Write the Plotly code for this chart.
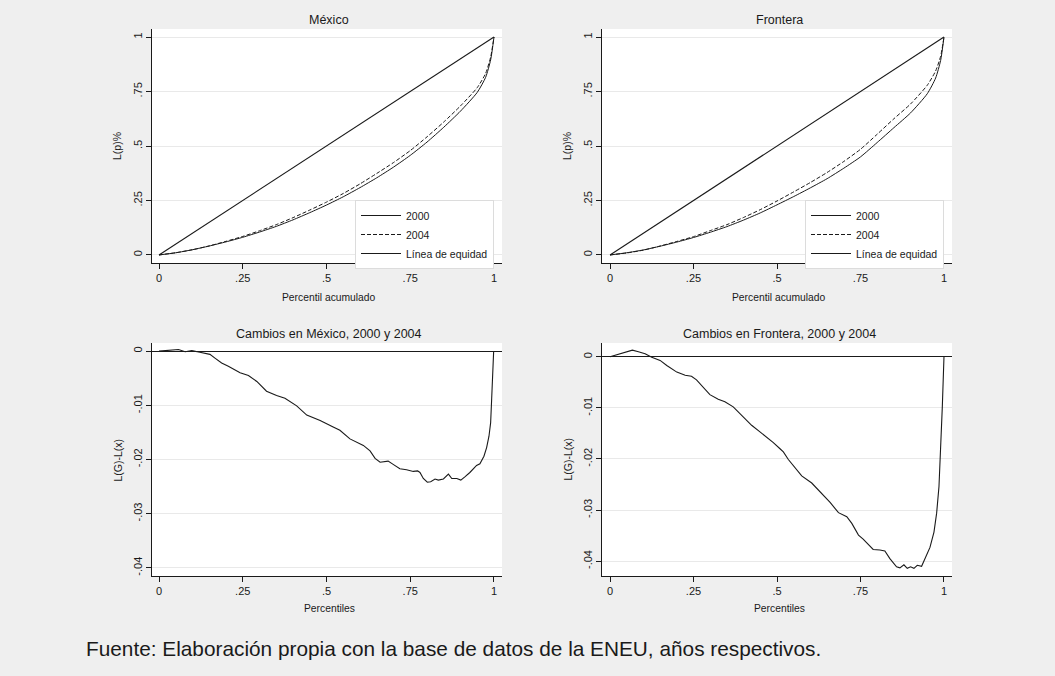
import plotly.graph_objects as go

W, H = 1055, 676

# ---------------- data ----------------
p_lorenz = [0, 0.05, 0.1, 0.15, 0.2, 0.25, 0.3, 0.35, 0.4, 0.45, 0.5, 0.55, 0.6,
            0.65, 0.7, 0.75, 0.8, 0.85, 0.9, 0.95, 0.975, 0.99, 1]
mex_2000 = [0, 0.010, 0.024, 0.041, 0.060, 0.081, 0.105, 0.131, 0.161, 0.194, 0.229,
            0.267, 0.309, 0.354, 0.403, 0.457, 0.518, 0.586, 0.660, 0.746, 0.815, 0.895, 1.0]
mex_2004 = [0, 0.010, 0.024, 0.0415, 0.0625, 0.085, 0.111, 0.139, 0.171, 0.206, 0.2425,
            0.282, 0.326, 0.374, 0.424, 0.479, 0.542, 0.610, 0.684, 0.768, 0.833, 0.908, 1.0]
fro_2000 = [0, 0.010, 0.023, 0.040, 0.059, 0.080, 0.104, 0.130, 0.160, 0.193, 0.230,
            0.268, 0.308, 0.350, 0.398, 0.450, 0.516, 0.584, 0.652, 0.740, 0.812, 0.893, 1.0]
fro_2004 = [0, 0.009, 0.022, 0.041, 0.062, 0.084, 0.1115, 0.139, 0.172, 0.208, 0.2475,
            0.2895, 0.3325, 0.3785, 0.429, 0.485, 0.554, 0.625, 0.693, 0.779, 0.8445, 0.912, 1.0]
equity_x = [0, 1]
equity_y = [0, 1]

mex_diff_p = [0, 0.033, 0.058, 0.078, 0.098, 0.122, 0.152, 0.167, 0.187, 0.207, 0.242,
              0.267, 0.292, 0.321, 0.351, 0.376, 0.411, 0.441, 0.461, 0.481, 0.520, 0.540,
              0.570, 0.590, 0.610, 0.630, 0.645, 0.660, 0.684, 0.699, 0.719, 0.739, 0.759,
              0.772, 0.779, 0.789, 0.801, 0.811, 0.824, 0.834, 0.849, 0.864, 0.874, 0.889,
              0.901, 0.913, 0.928, 0.948, 0.958, 0.970, 0.978, 0.985, 0.990, 0.993, 0.996, 0.999]
mex_diff = [0, 0.0001, 0.0003, -0.0001, 0.0001, -0.0002, -0.0006, -0.0013, -0.0022, -0.0028,
            -0.0040, -0.0045, -0.0056, -0.0074, -0.0082, -0.0087, -0.0101, -0.0118, -0.0123,
            -0.0128, -0.0140, -0.0146, -0.0162, -0.0168, -0.0174, -0.0184, -0.0198, -0.0205,
            -0.0203, -0.0209, -0.0217, -0.0219, -0.0222, -0.0221, -0.0224, -0.0235, -0.0242,
            -0.0241, -0.0236, -0.0238, -0.0236, -0.0227, -0.0235, -0.0235, -0.0238, -0.0232,
            -0.0224, -0.0211, -0.0208, -0.0194, -0.0178, -0.0157, -0.0132, -0.0089, -0.0040, 0]

fro_diff_p = [0, 0.015, 0.035, 0.050, 0.067, 0.085, 0.105, 0.125, 0.150, 0.170, 0.200,
              0.225, 0.244, 0.259, 0.279, 0.299, 0.324, 0.344, 0.369, 0.399, 0.424, 0.449,
              0.469, 0.489, 0.509, 0.519, 0.534, 0.554, 0.574, 0.604, 0.629, 0.659, 0.684,
              0.709, 0.724, 0.744, 0.758, 0.788, 0.808, 0.823, 0.838, 0.858, 0.868, 0.880,
              0.890, 0.900, 0.910, 0.920, 0.933, 0.948, 0.958, 0.970, 0.978, 0.985, 0.990,
              0.995, 1.0]
fro_diff = [0, 0.0003, 0.0008, 0.0010, 0.0013, 0.0010, 0.0006, -0.0001, -0.0007, -0.0017,
            -0.0030, -0.0036, -0.0038, -0.0045, -0.0059, -0.0074, -0.0083, -0.0088, -0.0098,
            -0.0118, -0.0134, -0.0147, -0.0157, -0.0168, -0.0180, -0.0186, -0.0201, -0.0218,
            -0.0233, -0.0247, -0.0264, -0.0285, -0.0305, -0.0313, -0.0326, -0.0349, -0.0357,
            -0.0377, -0.0378, -0.0380, -0.0395, -0.0411, -0.0413, -0.0407, -0.0414, -0.0411,
            -0.0414, -0.0408, -0.0410, -0.0389, -0.0373, -0.0343, -0.0306, -0.0254, -0.0190,
            -0.0098, 0]

x_tickvals = [0, 0.25, 0.5, 0.75, 1]
x_ticktext = ["0", ".25", ".5", ".75", "1"]
top_tickvals = [0, 0.25, 0.5, 0.75, 1]
top_ticktext = ["0", ".25", ".5", ".75", "1"]
bot_tickvals = [0, -0.01, -0.02, -0.03, -0.04]
bot_ticktext = ["0", "-.01", "-.02", "-.03", "-.04"]

titles = ["México", "Frontera", "Cambios en México, 2000 y 2004", "Cambios en Frontera, 2000 y 2004"]
legend_names = ["2000", "2004", "Línea de equidad"]
caption = "Fuente: Elaboración propia con la base de datos de la ENEU, años respectivos."

# ---------------- layout helpers ----------------
FONT = "Liberation Sans, Arial, sans-serif"
INK = "#1a1a1a"
BG = "#efefef"

def px_x(v):
    return v / W

def px_y(v):
    return 1 - v / H

# pixel boxes (left, right, top, bottom)
boxes = {
    "TL": (152, 502, 29, 263),
    "TR": (602, 952, 29, 263),
    "BL": (152, 502, 343, 576),
    "BR": (602, 952, 343, 576),
}

fig = go.Figure()

def lor(x, y, name, xa, ya, leg, dash=None, w=1.0):
    return go.Scatter(x=x, y=y, mode="lines", name=name,
                      line=dict(color=INK, width=w, dash=dash, shape="spline", smoothing=0.6),
                      xaxis=xa, yaxis=ya, legend=leg)

fig.add_trace(lor(p_lorenz, mex_2000, legend_names[0], "x", "y", "legend"))
fig.add_trace(lor(p_lorenz, mex_2004, legend_names[1], "x", "y", "legend", dash="4px,2px"))
fig.add_trace(lor(equity_x, equity_y, legend_names[2], "x", "y", "legend", w=1.1))
fig.add_trace(lor(p_lorenz, fro_2000, legend_names[0], "x2", "y2", "legend2"))
fig.add_trace(lor(p_lorenz, fro_2004, legend_names[1], "x2", "y2", "legend2", dash="4px,2px"))
fig.add_trace(lor(equity_x, equity_y, legend_names[2], "x2", "y2", "legend2", w=1.1))
fig.add_trace(go.Scatter(x=mex_diff_p, y=mex_diff, mode="lines", showlegend=False,
                         line=dict(color=INK, width=1.1), xaxis="x3", yaxis="y3"))
fig.add_trace(go.Scatter(x=fro_diff_p, y=fro_diff, mode="lines", showlegend=False,
                         line=dict(color=INK, width=1.1), xaxis="x4", yaxis="y4"))

def xaxis(box, rng, anchor):
    l, r, t, b = box
    return dict(domain=[px_x(l), px_x(r)], range=rng, anchor=anchor,
                tickvals=x_tickvals, ticktext=x_ticktext,
                showline=True, linecolor=INK, linewidth=1, mirror=False,
                ticks="outside", ticklen=5, tickcolor=INK, tickwidth=1,
                showgrid=False, zeroline=False,
                tickfont=dict(family=FONT, size=11, color=INK), fixedrange=True)

def yaxis(box, rng, anchor, tv, tt, zl):
    l, r, t, b = box
    return dict(domain=[px_y(b), px_y(t)], range=rng, anchor=anchor,
                tickvals=tv, ticktext=tt, tickangle=-90,
                showline=True, linecolor=INK, linewidth=1,
                ticks="outside", ticklen=5, tickcolor=INK, tickwidth=1,
                showgrid=True, gridcolor="#e9e9e9", gridwidth=1,
                zeroline=zl, zerolinecolor=INK, zerolinewidth=1,
                tickfont=dict(family=FONT, size=11, color=INK), fixedrange=True)

fig.update_layout(
    width=W, height=H, margin=dict(l=0, r=0, t=0, b=0),
    paper_bgcolor=BG, plot_bgcolor="white",
    font=dict(family=FONT, color=INK),
    xaxis=xaxis(boxes["TL"], [-0.0209, 1.0239], "y"),
    yaxis=yaxis(boxes["TL"], [-0.037, 1.037], "x", top_tickvals, top_ticktext, False),
    xaxis2=xaxis(boxes["TR"], [-0.024, 1.024], "y2"),
    yaxis2=yaxis(boxes["TR"], [-0.037, 1.037], "x2", top_tickvals, top_ticktext, False),
    xaxis3=xaxis(boxes["BL"], [-0.0209, 1.0239], "y3"),
    yaxis3=yaxis(boxes["BL"], [-0.0415, 0.0015], "x3", bot_tickvals, bot_ticktext, True),
    xaxis4=xaxis(boxes["BR"], [-0.024, 1.024], "y4"),
    yaxis4=yaxis(boxes["BR"], [-0.0429, 0.0027], "x4", bot_tickvals, bot_ticktext, True),
    showlegend=True,
)

leg_common = dict(bgcolor="white", bordercolor="#dcdcdc", borderwidth=1,
                  font=dict(family=FONT, size=10.5, color=INK),
                  xanchor="left", yanchor="top", itemwidth=40,
                  tracegroupgap=0, itemclick=False, itemdoubleclick=False)
fig.update_layout(
    legend=dict(x=px_x(355), y=px_y(200), **leg_common),
    legend2=dict(x=px_x(805), y=px_y(200), **leg_common),
)

ann = []
title_y = [20.5, 20.5, 334, 334]
for t, key, ty in zip(titles, ["TL", "TR", "BL", "BR"], title_y):
    l, r, tp, b = boxes[key]
    ann.append(dict(text=t, x=px_x((l + r) / 2 + 2), y=px_y(ty), xref="paper", yref="paper",
                    xanchor="center", yanchor="middle", showarrow=False,
                    font=dict(family=FONT, size=12.5, color=INK)))
xt = [("Percentil acumulado", "TL", 297), ("Percentil acumulado", "TR", 297),
      ("Percentiles", "BL", 608), ("Percentiles", "BR", 608)]
for t, key, ty in xt:
    l, r, tp, b = boxes[key]
    ann.append(dict(text=t, x=px_x((l + r) / 2 + 2), y=px_y(ty), xref="paper", yref="paper",
                    xanchor="center", yanchor="middle", showarrow=False,
                    font=dict(family=FONT, size=10.3, color=INK)))
yt = [("L(p)%", "TL"), ("L(p)%", "TR"), ("L(G)-L(x)", "BL"), ("L(G)-L(x)", "BR")]
for t, key in yt:
    l, r, tp, b = boxes[key]
    ann.append(dict(text=t, x=px_x(l - 35), y=px_y((tp + b) / 2), xref="paper", yref="paper",
                    xanchor="center", yanchor="middle", showarrow=False, textangle=-90,
                    font=dict(family=FONT, size=10.5, color=INK)))
ann.append(dict(text=caption, x=px_x(84), y=px_y(648), xref="paper", yref="paper",
                xanchor="left", yanchor="middle", showarrow=False,
                font=dict(family=FONT, size=20.8, color=INK)))
fig.update_layout(annotations=ann)

fig.write_html("out.html", config={"displayModeBar": False})
